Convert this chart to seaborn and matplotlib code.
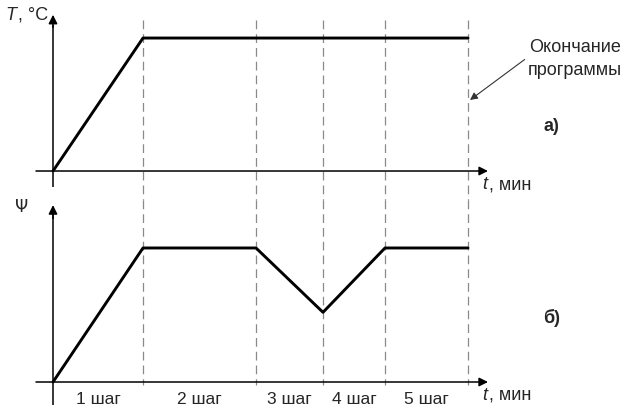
import matplotlib
matplotlib.use("Agg")
import matplotlib.pyplot as plt
import seaborn as sns

# step boundaries (arbitrary time units) and the two programme curves
t_bounds = [0, 9.0, 20.3, 27.0, 33.2, 41.5]
temp = [0, 100, 100, 100, 100, 100]
psi = [0, 1.0, 1.0, 0.52, 1.0, 1.0]
step_labels = ["1 шаг", "2 шаг", "3 шаг", "4 шаг", "5 шаг"]

sns.set_style("white")
plt.rcParams["font.family"] = ["Liberation Sans", "DejaVu Sans"]

fig = plt.figure(figsize=(6.27, 4.08), dpi=100)
ax1 = fig.add_axes([0, 1 - 200 / 408, 1, 200 / 408])
ax2 = fig.add_axes([0, 0, 1, 208 / 408])

xlim = (-5.3, 57.4)
ax1.set_xlim(xlim)
ax1.set_ylim(-21.8, 128.6)
ax2.set_xlim(xlim)
ax2.set_ylim(-0.194, 1.358)
for ax in (ax1, ax2):
    ax.axis("off")

arrow = dict(arrowstyle="-|>", mutation_scale=13, lw=1.1, color="black",
             shrinkA=0, shrinkB=0)
axis_kw = dict(color="black", lw=1.1, solid_capstyle="butt")

# dashed step boundaries, running through both panels
dash_kw = dict(color="#8a8a8a", lw=0.9, dashes=(7, 4))
for tb in t_bounds[1:]:
    ax1.plot([tb, tb], [113.5, -21.8], clip_on=False, **dash_kw)
    ax2.plot([tb, tb], [1.358, -0.02], clip_on=False, **dash_kw)

# top panel axes
ax1.annotate("", xy=(43.5, 0), xytext=(-1.7, 0), arrowprops=arrow)
ax1.plot([0, 0], [-12, 110], **axis_kw)
ax1.annotate("", xy=(0, 117.5), xytext=(0, 108), arrowprops=arrow)
sns.lineplot(x=t_bounds, y=temp, ax=ax1, color="black", lw=2.1)

# bottom panel axes
ax2.annotate("", xy=(43.5, 0), xytext=(-1.7, 0), arrowprops=arrow)
ax2.plot([0, 0], [-0.17, 1.25], **axis_kw)
ax2.annotate("", xy=(0, 1.32), xytext=(0, 1.22), arrowprops=arrow)
sns.lineplot(x=t_bounds, y=psi, ax=ax2, color="black", lw=2.1)

fs = 13
# axis labels
ax1.text(-4.8, 117.3, "T", style="italic", fontsize=fs, ha="left", va="center")
ax1.text(-3.55, 117.3, ", °C", fontsize=fs, ha="left", va="center")
ax2.text(-3.1, 1.306, "Ψ", fontsize=fs - 1, ha="center", va="center",
         family="DejaVu Sans")
for ax, y in ((ax1, -10.5), (ax2, -0.097)):
    ax.text(42.9, y, "t", style="italic", fontsize=fs, ha="left", va="center")
    ax.text(43.6, y, ", мин", fontsize=fs, ha="left", va="center")

# annotation of the programme end
ax1.annotate("Окончание\nпрограммы", xy=(41.7, 53.4), xytext=(52.2, 84.2),
             ha="center", va="center", fontsize=fs, linespacing=1.45,
             arrowprops=dict(arrowstyle="-|>", mutation_scale=11, lw=0.8,
                             color="#333333", shrinkA=0, shrinkB=0,
                             relpos=(0.0, 0.55)))
ax1.text(49.0, 33.8, "а)", fontsize=fs, weight="bold", ha="left", va="center")
ax2.text(49.0, 0.478, "б)", fontsize=fs, weight="bold", ha="left", va="center")

# step labels centred between boundaries
for i, lab in enumerate(step_labels):
    mid = (t_bounds[i] + t_bounds[i + 1]) / 2
    ax2.text(mid, -0.127, lab, fontsize=fs - 0.5, ha="center", va="center")

fig.savefig("out.png", dpi=100)
